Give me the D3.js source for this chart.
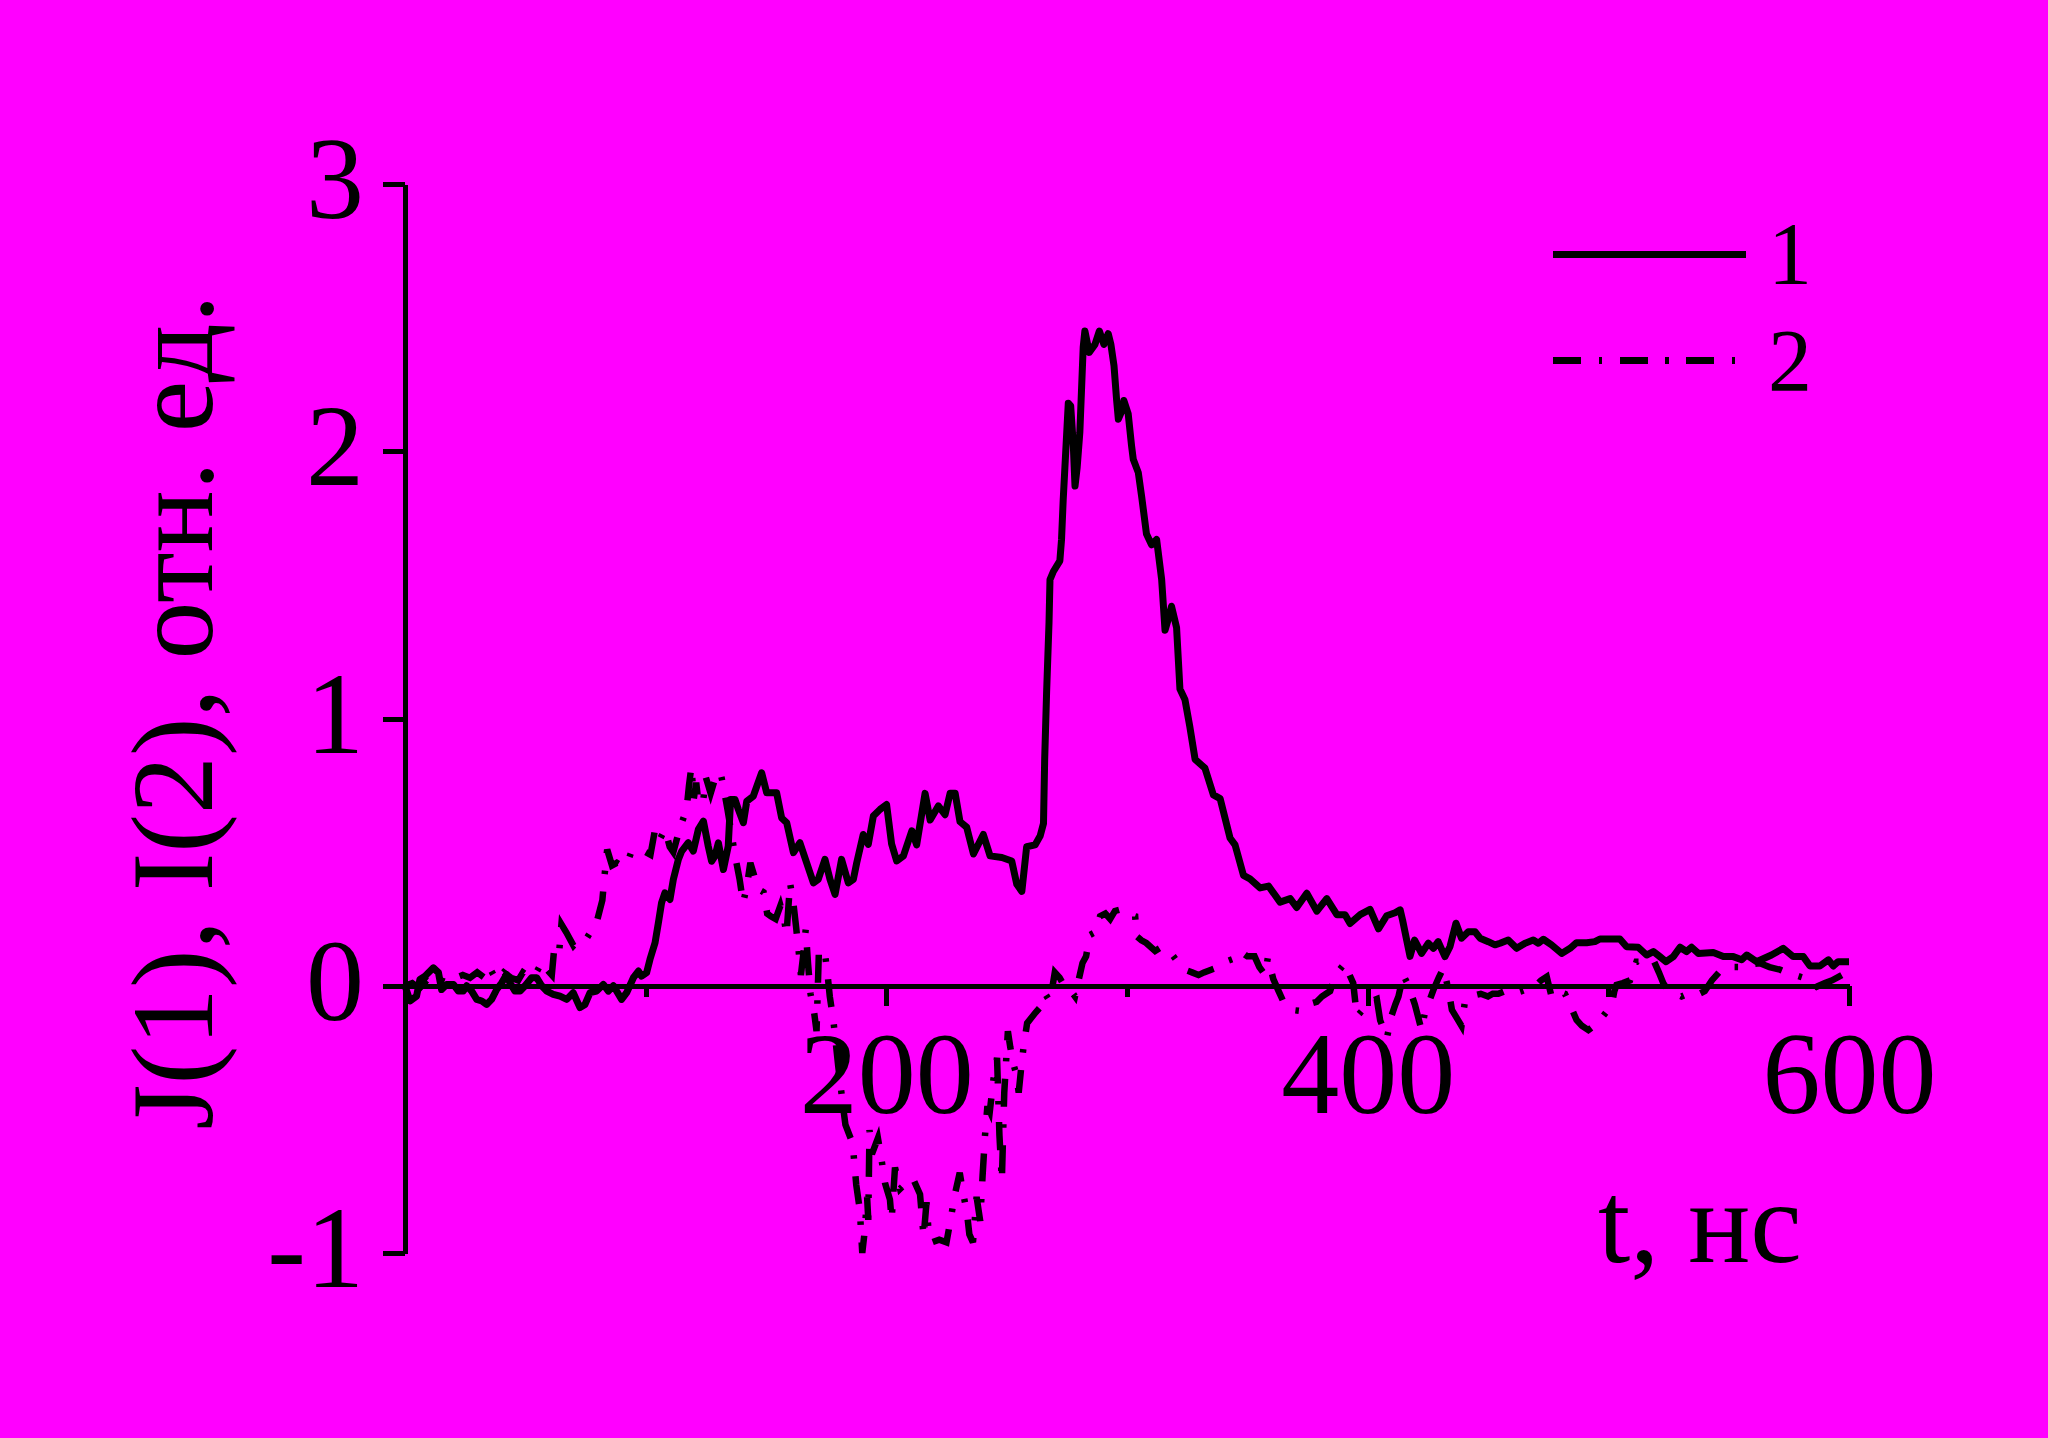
<!DOCTYPE html>
<html><head><meta charset="utf-8">
<script src="https://cdn.jsdelivr.net/npm/d3@7"></script>
<style>html,body{margin:0;padding:0;background:#ff00ff;} svg{display:block;}</style>
</head><body>
<script>
const xTicksMajor = [200, 400, 600];
const xTicksMinor = [100, 300, 500];
const yTicks = [-1, 0, 1, 2, 3];
const xTitle = "t, нс";
const yTitle = "J(1), I(2), отн. ед.";
const legendLabels = ["1", "2"];

// curve 1 (solid): [t, value]
const series1 = [
[0,0],[2.1,-0.057],[4.8,-0.039],[6.2,0.024],[8.3,0.036],[11.8,0.067],[13.9,0.049],[15.2,-0.014],[17.3,0.005],[20.1,0.005],
[22.2,-0.02],[24.2,-0.02],[25.6,0],[27.7,-0.02],[29.8,-0.051],[31.9,-0.057],[33.9,-0.07],[36,-0.051],[38.1,-0.014],[40.2,0.011],
[42.2,0.042],[43.6,0.011],[45.7,-0.02],[47.8,-0.02],[49.9,0],[52.6,0.03],[54.7,0.03],[56.8,0],[58.9,-0.02],[61.6,-0.032],
[64.4,-0.039],[67.2,-0.051],[69.9,-0.026],[72.7,-0.082],[74.8,-0.07],[76.9,-0.026],[79.6,-0.02],[82.4,0.005],[84.5,-0.02],[86.6,0],
[90,-0.051],[92.1,-0.026],[94.9,0.03],[97,0.055],[98.3,0.036],[100.4,0.049],[101.8,0.099],[103.9,0.161],[105.3,0.236],[106.6,0.31],
[108,0.348],[110.1,0.323],[111.5,0.398],[113.6,0.473],[115,0.504],[117.7,0.535],[119.8,0.504],[121.9,0.585],[124,0.616],[126,0.522],
[127.4,0.466],[128.8,0.485],[130.2,0.535],[132.3,0.435],[134.3,0.522],[135.3,0.697],[137.1,0.697],[138.5,0.66],[140.6,0.61],[142,0.69],
[144.7,0.709],[148.2,0.797],[150.3,0.722],[154.4,0.722],[156.5,0.628],[158.6,0.61],[161.4,0.498],[164.1,0.535],[166.9,0.46],[169.7,0.385],
[171.7,0.398],[174.5,0.473],[176.6,0.398],[178.7,0.342],[181.4,0.473],[184.2,0.385],[186.3,0.398],[187.7,0.46],[190.4,0.566],[192.5,0.529],
[194.6,0.635],[197.4,0.66],[200.1,0.678],[202.2,0.53],[204.3,0.467],[207.1,0.486],[210.6,0.58],[212.6,0.527],[216.1,0.72],[218.2,0.62],
[221.6,0.673],[224.4,0.64],[226.5,0.72],[228.6,0.72],[230.6,0.614],[233.4,0.593],[236.2,0.493],[240.3,0.566],[243.1,0.486],[248,0.48],
[252.1,0.467],[254.2,0.38],[256.3,0.353],[258.3,0.52],[261.8,0.527],[263.9,0.56],[265.3,0.607],[265.8,0.85],[266.6,1.1],[267.6,1.36],
[268,1.52],[269.4,1.55],[272.1,1.59],[272.8,1.67],[273.5,1.82],[274.2,1.94],[275.6,2.18],[276.6,2.17],[277.7,2.02],[278.4,1.87],
[279.3,1.94],[280.4,2.07],[281.1,2.23],[281.8,2.39],[282.5,2.45],[284.3,2.37],[286.7,2.4],[288.5,2.45],[290.4,2.4],[292.2,2.44],
[293.3,2.4],[294.6,2.32],[295.7,2.19],[296.4,2.12],[297.8,2.15],[298.7,2.19],[300.5,2.14],[301.9,2.02],[302.6,1.97],[304.7,1.92],
[306.1,1.83],[308.1,1.69],[310.2,1.65],[312.3,1.67],[314.4,1.52],[315.8,1.33],[317.1,1.37],[318.5,1.42],[320.6,1.34],[322,1.11],
[324.1,1.07],[326.1,0.97],[328.3,0.847],[332.4,0.814],[335.9,0.714],[338.7,0.7],[342.8,0.553],[344.9,0.527],[348.4,0.413],[351.1,0.4],
[355.3,0.366],[358.8,0.373],[363.6,0.313],[367.8,0.326],[370.5,0.293],[374.7,0.346],[378.9,0.279],[383,0.326],[387.2,0.266],[390.6,0.266],
[392.7,0.233],[396.9,0.266],[401,0.286],[404.5,0.213],[407.9,0.262],[411.4,0.273],[413.5,0.284],[414.5,0.246],[416.2,0.171],[417.6,0.11],
[419.5,0.171],[422.4,0.121],[425.2,0.159],[427.3,0.14],[429.3,0.165],[432.1,0.109],[434.2,0.146],[436.7,0.234],[439,0.178],[441.8,0.202],
[444.6,0.202],[446.7,0.178],[450.1,0.165],[452.9,0.153],[455,0.159],[458.4,0.171],[461.9,0.14],[465.4,0.159],[468.8,0.171],[470.9,0.159],
[473,0.174],[476.4,0.153],[480.6,0.121],[484.1,0.14],[486.8,0.161],[491,0.161],[494.4,0.165],[496.5,0.175],[504.8,0.175],[507.6,0.146],
[512.4,0.144],[515.9,0.115],[518.7,0.128],[521.4,0.109],[524,0.09],[527,0.109],[529.8,0.144],[532.5,0.128],[534.6,0.144],[537.4,0.121],
[543.6,0.124],[547.8,0.109],[551.9,0.109],[555.4,0.097],[557.5,0.115],[561.6,0.09],[567.8,0.115],[572.7,0.14],[576.8,0.109],[581,0.109],
[583.8,0.074],[587.9,0.074],[591.4,0.097],[593.5,0.074],[595.5,0.09],[600,0.09]
];

// curve 2 (dash-dot): [t, value]
const series2 = [
[0,0],[3,0.01],[6,-0.01],[9,0.02],[12,0],[15,0.02],[18,0.01],[21,0.03],[24,0.04],[27,0.03],
[30,0.05],[33,0.03],[35,0.07],[38,0.02],[41,0.05],[44,0.03],[47,0.02],[49,0.05],[52,0.03],[54,0.04],
[57,0.09],[59,0.06],[61,0.04],[62,0.14],[64,0.12],[65,0.23],[67,0.2],[70,0.15],[72,0.17],[75,0.17],
[77,0.2],[80,0.25],[82,0.32],[83,0.42],[84,0.51],[86,0.45],[88,0.46],[90,0.45],[92,0.45],[94,0.5],
[96,0.51],[98,0.5],[100,0.5],[102,0.49],[104,0.59],[106,0.55],[108,0.585],[110,0.52],[111.5,0.5],[113,0.55],
[115,0.61],[117,0.66],[118,0.75],[119,0.82],[120,0.7],[121,0.76],[122,0.68],[124,0.7],[125,0.78],[127,0.72],
[129,0.78],[131,0.8],[132,0.76],[134,0.66],[136,0.55],[137.5,0.47],[139,0.4],[140.5,0.31],[142,0.37],[143.5,0.46],
[145.5,0.4],[147,0.36],[149,0.35],[150.5,0.27],[152,0.26],[154,0.25],[156,0.3],[157.5,0.25],[158.5,0.19],[160,0.385],
[161.5,0.3],[162.5,0.22],[163.5,0.136],[164.5,0.04],[165.5,0.117],[166.5,0.21],[167.5,0.08],[168.5,-0.03],[170,-0.1],[171,-0.17],
[172,0.136],[174.5,0.12],[175.5,0.05],[176.5,-0.04],[178,-0.13],[180,-0.3],[182,-0.45],[183,-0.52],[186,-0.59],[187.5,-0.745],
[189,-0.84],[190,-1.0],[191,-0.92],[192,-0.79],[192.5,-0.876],[193,-0.54],[194,-0.63],[196.5,-0.57],[198,-0.65],[199.5,-0.74],
[201.5,-0.8],[202.2,-0.876],[203.6,-0.68],[205.7,-0.76],[208,-0.74],[211,-0.72],[214,-0.78],[215.5,-0.94],[216.7,-0.81],[217.4,-0.9],
[219,-0.96],[222,-0.95],[225,-0.96],[227,-0.86],[228.5,-0.78],[230.5,-0.7],[232,-0.78],[233.5,-0.85],[234.5,-0.93],[236,-0.96],
[237.5,-0.79],[239,-0.88],[240,-0.71],[241,-0.56],[242,-0.45],[243,-0.47],[244.5,-0.35],[246,-0.27],[247,-0.56],[248,-0.73],
[249,-0.4],[250.5,-0.17],[251.5,-0.23],[253,-0.3],[254,-0.33],[255,-0.4],[256,-0.31],[257,-0.23],[258.5,-0.14],[262,-0.1],
[264,-0.08],[266,-0.03],[268,-0.06],[270,0.05],[272,0.03],[273.6,0.005],[276,-0.01],[278.4,-0.04],[280.5,0.045],[281.5,0.085],
[283,0.11],[284.6,0.19],[286.7,0.2],[288.8,0.26],[291,0.27],[293,0.25],[295,0.28],[297,0.285],[300,0.27],[303.4,0.26],
[304,0.185],[306,0.17],[308,0.16],[311.7,0.13],[314.4,0.145],[318,0.125],[321,0.09],[324,0.06],[327,0.05],[329.7,0.04],
[332,0.05],[335,0.06],[338,0.07],[341,0.09],[344,0.1],[347,0.13],[350,0.11],[353,0.11],[355,0.07],[357.4,0.04],
[358.5,0.105],[360.8,0.025],[363,-0.02],[365,-0.06],[368,-0.09],[372.6,-0.095],[375,-0.07],[378.8,-0.06],[381,-0.04],[384.4,-0.02],
[386.5,0.04],[390.6,0.085],[392,0.05],[394,0.01],[395.5,-0.115],[398,-0.09],[401,-0.06],[403.8,-0.05],[405.2,-0.13],[407,-0.17],
[408,-0.195],[410,-0.11],[411.5,-0.07],[412.8,-0.04],[414.8,0.04],[417,0],[419.6,-0.07],[422.4,-0.166],[423.8,-0.1],[425.5,-0.06],
[427.3,-0.016],[429.5,0.03],[431.4,0.065],[433.5,-0.01],[435,-0.09],[437,-0.12],[439,-0.15],[440.4,-0.06],[442,-0.04],[444.6,-0.035],
[447,-0.03],[450,-0.04],[452,-0.03],[454.3,-0.03],[457,-0.02],[460.5,-0.03],[464,-0.02],[467,-0.01],[469.5,-0.004],[472,0.02],
[474.4,0.034],[476.4,-0.04],[479,-0.02],[482,-0.03],[484,-0.07],[486.8,-0.128],[489,-0.15],[491.7,-0.166],[494,-0.15],[496.5,-0.128],
[499,-0.1],[501.4,-0.072],[502.5,-0.02],[503.4,0.003],[506,0.01],[509,0.02],[511.7,0.09],[515,0.09],[518.7,0.097],[521,0.05],
[522.8,0.01],[525,-0.02],[528,-0.03],[530.4,-0.04],[533,-0.03],[536.7,-0.035],[540.1,-0.02],[543,0.02],[547,0.06],[551,0.07],
[555,0.07],[559,0.08],[563,0.084],[567,0.07],[571.3,0.06],[574,0.05],[577.5,0.04],[581,0.03],[584,0.01],[586.5,-0.004],
[590,0.01],[593,0.02],[597,0.04],[599,0.04]
];

const W = 2048, H = 1438;
const FONT = '"Liberation Serif","Times New Roman",serif';
const svg = d3.select("body").append("svg").attr("width", W).attr("height", H);
svg.append("rect").attr("width", W).attr("height", H).attr("fill", "#ff00ff");

const x = d3.scaleLinear().domain([0, 600]).range([405, 1849]);
const y = d3.scaleLinear().domain([-1, 3]).range([1253, 184]);

function styleAxis(g) {
  g.select(".domain").attr("stroke", "#000").attr("stroke-width", 5);
  g.selectAll(".tick line").attr("stroke", "#000").attr("stroke-width", 5);
  g.selectAll("text").attr("fill", "#000").attr("font-family", FONT).attr("font-size", 116);
  g.attr("shape-rendering", "crispEdges");
}

// y axis
const gy = svg.append("g").attr("transform", `translate(${x(0)},0)`)
  .call(d3.axisLeft(y).tickValues(yTicks).tickSize(22).tickSizeOuter(0).tickPadding(19)
    .tickFormat(d => d < 0 ? "-" + Math.abs(d) : String(d)));
styleAxis(gy);
gy.selectAll("text").attr("dy", "0.29em");

// x axis minor ticks
const gxm = svg.append("g").attr("transform", `translate(0,${y(0)})`)
  .call(d3.axisBottom(x).tickValues(xTicksMinor).tickSize(11).tickSizeOuter(0).tickFormat(""));
styleAxis(gxm);
gxm.select(".domain").remove();

// x axis major
const gx = svg.append("g").attr("transform", `translate(0,${y(0)})`)
  .call(d3.axisBottom(x).tickValues(xTicksMajor).tickSize(20).tickSizeOuter(0).tickFormat(d3.format("d")));
styleAxis(gx);
gx.selectAll("text").attr("y", 127).attr("dy", 0);

// curves
const line = d3.line().x(d => x(d[0])).y(d => y(d[1]));
svg.append("path").datum(series1).attr("d", line)
  .attr("fill", "none").attr("stroke", "#000").attr("stroke-width", 7)
  .attr("stroke-linejoin", "round");
svg.append("path").datum(series2).attr("d", line)
  .attr("fill", "none").attr("stroke", "#000").attr("stroke-width", 6.5)
  .attr("stroke-dasharray", "28,17.5,3.5,17.5");

// legend
const lg = svg.append("g");
lg.append("line").attr("x1", 1553).attr("x2", 1746).attr("y1", 254).attr("y2", 254)
  .attr("stroke", "#000").attr("stroke-width", 7).attr("shape-rendering", "crispEdges");
lg.append("line").attr("x1", 1553).attr("x2", 1735).attr("y1", 360).attr("y2", 360)
  .attr("stroke", "#000").attr("stroke-width", 7).attr("stroke-dasharray", "28,17.5,3.5,17.5")
  .attr("shape-rendering", "crispEdges");
lg.selectAll("text").data(legendLabels).join("text")
  .attr("x", 1768).attr("y", (d, i) => i === 0 ? 283 : 390)
  .attr("font-family", FONT).attr("font-size", 88).attr("fill", "#000").text(d => d);

// axis titles
svg.append("text").attr("x", 1598).attr("y", 1262)
  .attr("font-family", FONT).attr("font-size", 116).attr("fill", "#000").text(xTitle);
svg.append("text").attr("transform", "translate(212,712) rotate(-90)")
  .attr("text-anchor", "middle")
  .attr("font-family", FONT).attr("font-size", 116).attr("fill", "#000").text(yTitle);
</script>
</body></html>
